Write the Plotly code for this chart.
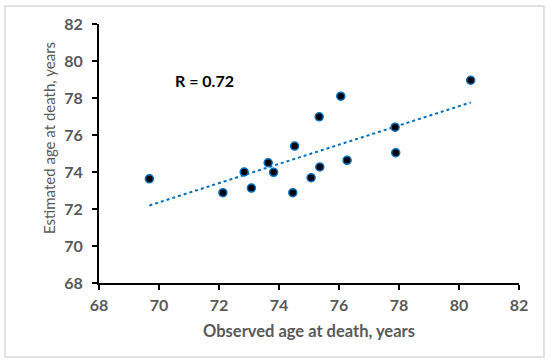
import numpy as np
import plotly.graph_objects as go

observed = [69.68, 72.13, 72.84, 73.08, 73.64, 73.82, 74.52, 74.46, 75.07, 75.36, 75.34, 76.06, 76.27, 77.87, 77.89, 80.39]
estimated = [73.63, 72.88, 74.0, 73.13, 74.5, 73.98, 75.4, 72.88, 73.69, 74.27, 76.98, 78.1, 74.63, 76.42, 75.04, 78.96]
tick_vals = [68, 70, 72, 74, 76, 78, 80, 82]
r_label = "R = 0.72"
x_title = "Observed age at death, years"
y_title = "Estimated age at death, years"

slope, intercept = np.polyfit(observed, estimated, 1)
tx = [min(observed), max(observed)]
ty = [slope * v + intercept for v in tx]

GRAY = "#595959"
BLUE = "#0070C0"
FONT = "Lato"

fig = go.Figure()
fig.add_trace(go.Scatter(x=tx, y=ty, mode="lines",
                         line=dict(color=BLUE, width=2, dash="dot"),
                         showlegend=False, hoverinfo="skip"))
fig.add_trace(go.Scatter(x=observed, y=estimated, mode="markers",
                         marker=dict(color="black", size=8, line=dict(color=BLUE, width=1.5)),
                         showlegend=False))

axis_common = dict(range=[68, 82], tickvals=tick_vals, showgrid=False, zeroline=False,
                   showline=True, linecolor="black", linewidth=2, automargin=False,
                   ticks="outside", ticklen=5, tickwidth=2, tickcolor="black",
                   tickfont=dict(family=FONT, size=16, color=GRAY, weight="bold"))
fig.update_xaxes(**axis_common, ticklabelstandoff=2)
fig.update_yaxes(**axis_common, ticklabelstandoff=6)

W, H = 550, 364
L, R, T, B = 99, 31, 24, 81
pw, ph = W - L - R, H - T - B

def px2paper(xp, yp):
    return (xp - L) / pw, (H - B - yp) / ph

ax_x, ax_y = px2paper(309, 331)
rx, ry = px2paper(204, 80)
y_tx, y_ty = px2paper(49, 138)
ann_common = dict(xref="paper", yref="paper", showarrow=False, xanchor="center", yanchor="middle")
fig.add_annotation(x=ax_x, y=ax_y, text=x_title, **ann_common,
                   font=dict(family=FONT, size=16.5, color=GRAY, weight="bold"))
fig.add_annotation(x=rx, y=ry, text=r_label, **ann_common,
                   font=dict(family=FONT, size=16, color="black", weight="bold"))
fig.add_annotation(x=y_tx, y=y_ty, text=y_title, textangle=-90, **ann_common,
                   font=dict(family=FONT, size=15, color=GRAY))

bx0, by0 = px2paper(5, 357)
bx1, by1 = px2paper(544, 6)
fig.add_shape(type="rect", xref="paper", yref="paper", x0=bx0, y0=by0, x1=bx1, y1=by1,
              line=dict(color="#D9D9D9", width=1.5), layer="below")

fig.update_layout(width=W, height=H, margin=dict(l=L, r=R, t=T, b=B, autoexpand=False),
                  plot_bgcolor="white", paper_bgcolor="white")

fig.write_html("out.html", config={"displayModeBar": False},
               post_script="document.body.style.margin='0';document.body.style.overflow='hidden';")
